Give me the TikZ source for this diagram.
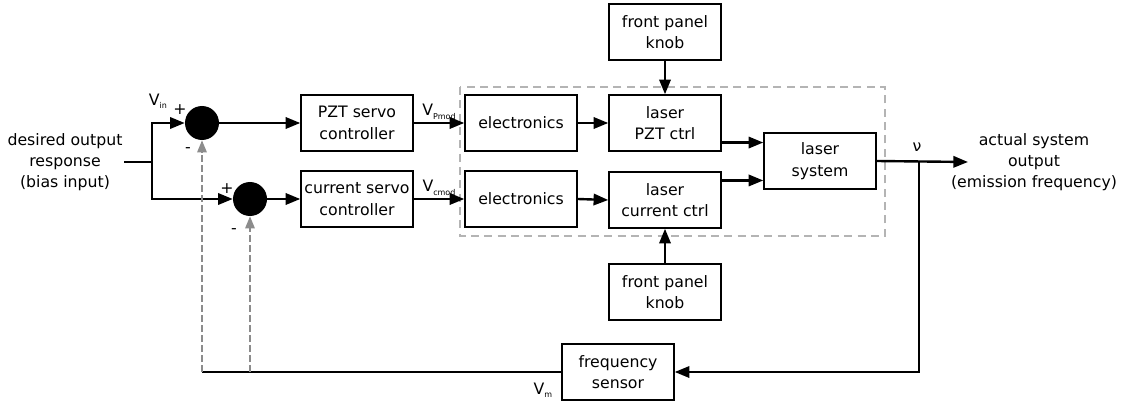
\documentclass[tikz,border=0pt]{standalone}
\usepackage{fontspec}
\setmainfont{DejaVu Sans}
\usetikzlibrary{arrows.meta, positioning, calc}

\definecolor{fbgray}{HTML}{8C8C8C}
\definecolor{boxgray}{HTML}{B4B4B4}
\newcommand{\sigv}[1]{V\raisebox{-2.5pt}{\fontsize{6}{6}\selectfont #1}}

\begin{document}
\begin{tikzpicture}[
  x=0.75pt, y=-0.75pt,
  font=\fontsize{11.8}{16}\selectfont,
  block/.style={draw, line width=1.1pt, minimum width=84pt, minimum height=42pt, align=center, inner sep=1pt},
  sumpt/.style={circle, fill=black, minimum size=25.5pt, inner sep=0pt},
  sig/.style={line width=1.8pt, -{Triangle[length=11pt,width=8.5pt]}},
  fb/.style={fbgray, line width=1.3pt, dash pattern=on 5pt off 2.5pt, -{Triangle[length=9pt,width=7pt]}},
  lbl/.style={align=center, inner sep=1pt}
]
\useasboundingbox (0,0) rectangle (1122,406);

% input / output texts
\node[lbl] (inp) at (65,162) {desired output\\response\\(bias input)};
\node[lbl] (outp) at (1034,162) {actual system\\output\\(emission frequency)};

% summing points
\node[sumpt] (sum1) at (202,123) {};
\node[sumpt] (sum2) at (250,199) {};
\node (p1) at (180,110) {+};
\node (m1) at (188,150) {-};
\node (p2) at (227,189) {+};
\node (m2) at (234,231) {-};
\node (vin) at (158,101) {\sigv{in}};

% controllers and laser blocks
\node[block] (pzt) at (357,123) {PZT servo\\controller};
\node[block] (cur) at (357,199) {current servo\\controller};
\node[block] (elecA) at (521,123) {electronics};
\node[block] (elecB) at (521,199) {electronics};
\node[block] (lpzt) at (665,123) {laser\\PZT ctrl};
\node[block] (lcur) at (665,200) {laser\\current ctrl};
\node[block] (lsys) at (820,161) {laser\\system};
\node[block] (knobT) at (665,32) {front panel\\knob};
\node[block] (knobB) at (665,292) {front panel\\knob};
\node[block] (fsens) at (618,372) {frequency\\sensor};
\node (vm) at (543,390) {\sigv{m}};

% laser unit outline
\draw[boxgray, line width=1pt, dash pattern=on 6pt off 4pt] (460,87) rectangle (885,236);

% helper points
\coordinate (split) at (152,162);
\coordinate (tap) at (919,162);
\coordinate (outtip) at (968,162);
\coordinate (fbend) at (202,372);

% forward path
\draw[line width=1.8pt] (inp.east) -- (split);
\draw[sig] (split) |- (sum1.west);
\draw[sig] (split) |- (sum2.west);
\draw[sig] (sum1) -- (pzt.west);
\draw[sig] (sum2) -- (cur.west);
\draw[sig] (pzt.east) -- node[above, inner sep=2pt] {\sigv{Pmod}} (elecA.west);
\draw[sig] (cur.east) -- node[above, inner sep=2pt] {\sigv{cmod}} (elecB.west);
\draw[sig] (elecA.east) -- (lpzt.west);
\draw[sig] (elecB.east) -- (lcur.west);
\draw[sig] (knobT.south) -- (lpzt.north);
\draw[sig] (knobB.north) -- (lcur.south);
\draw[sig] (lpzt.-19) -- (lpzt.-19 -| lsys.west);
\draw[sig] (lcur.19) -- (lcur.19 -| lsys.west);
\draw[sig] (lsys.east) -- (outtip);
\node (nu) at (917,147) {ν};

% feedback path
\draw[sig] (tap) |- (fsens.east);
\draw[line width=1.8pt] (fsens.west) -- (fbend);
\draw[fb] (fbend) -- (sum1.south);
\draw[fb] (fsens.west -| sum2) -- (sum2.south);
\end{tikzpicture}
\end{document}
